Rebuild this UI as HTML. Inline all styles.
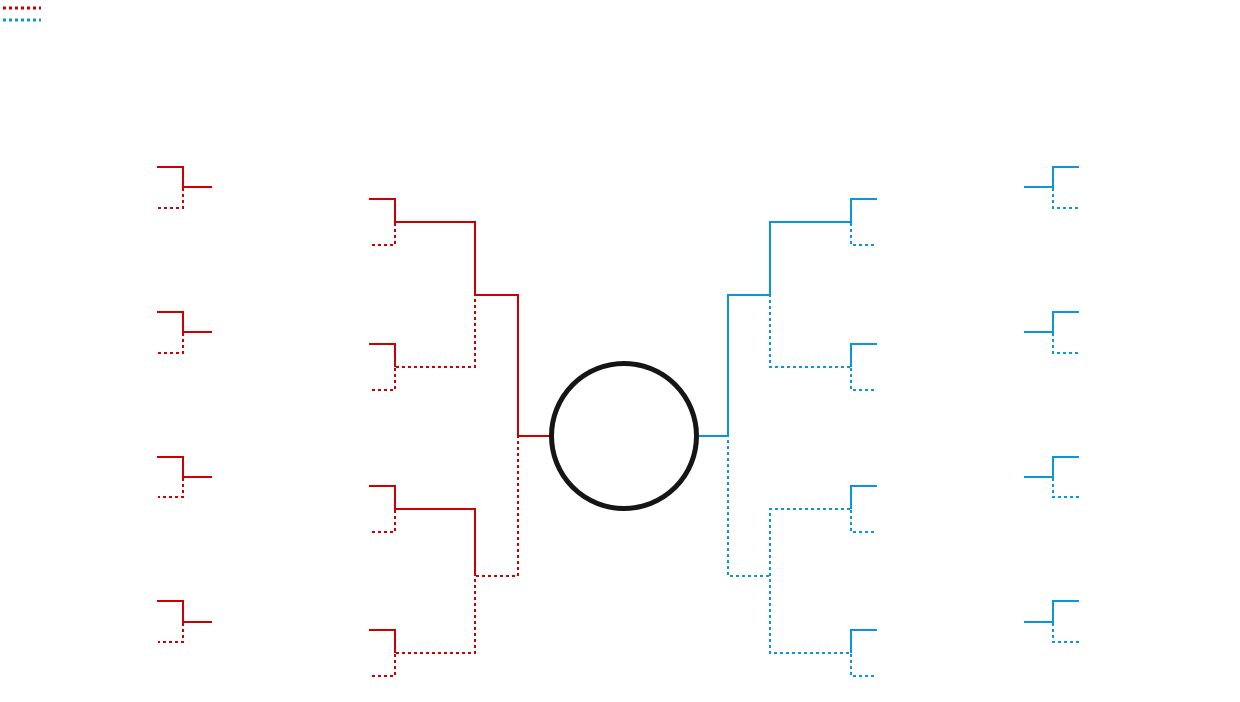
<!DOCTYPE html>
<html><head><meta charset="utf-8"><style>
html,body{margin:0;padding:0;background:#fff;}
svg{display:block;}
</style></head><body>
<svg width="1240" height="702" viewBox="0 0 1240 702" xmlns="http://www.w3.org/2000/svg">
<defs>
<style>
.r{stroke:#cc0000;stroke-width:2;fill:none;}
.b{stroke:#0a96d8;stroke-width:2;fill:none;}
.d{stroke-dasharray:3 3;}
</style>
</defs>
<!-- legend -->
<line class="r d" x1="3" y1="8" x2="41" y2="8" style="stroke-width:3"/>
<line class="b d" x1="3" y1="20" x2="41" y2="20" style="stroke-width:3"/>

<!-- left round 1 brackets -->
<g>
<polyline class="r" points="157,167 183,167 183,187 212,187"/>
<polyline class="r d" points="183,188 183,208 158,208"/>
<polyline class="r" points="157,312 183,312 183,332 212,332"/>
<polyline class="r d" points="183,333 183,353 158,353"/>
<polyline class="r" points="157,457 183,457 183,477 212,477"/>
<polyline class="r d" points="183,478 183,497 158,497"/>
<polyline class="r" points="157,601 183,601 183,622 212,622"/>
<polyline class="r d" points="183,623 183,642 158,642"/>
</g>

<!-- right round 1 brackets -->
<g>
<polyline class="b" points="1024,187 1053,187 1053,167 1079,167"/>
<polyline class="b d" points="1053,188 1053,208 1079,208"/>
<polyline class="b" points="1024,332 1053,332 1053,312 1079,312"/>
<polyline class="b d" points="1053,333 1053,353 1079,353"/>
<polyline class="b" points="1024,477 1053,477 1053,457 1079,457"/>
<polyline class="b d" points="1053,478 1053,497 1079,497"/>
<polyline class="b" points="1024,622 1053,622 1053,601 1079,601"/>
<polyline class="b d" points="1053,623 1053,642 1079,642"/>
</g>

<!-- left round 2 -->
<polyline class="r" points="369,199 395,199 395,222 475,222 475,295 518,295 518,436 551,436"/>
<polyline class="r d" points="395,223 395,245 369,245"/>
<polyline class="r" points="369,344 395,344 395,367"/>
<polyline class="r d" points="395,368 395,390 369,390"/>
<polyline class="r d" points="396,367 475,367 475,296"/>
<polyline class="r" points="369,486 395,486 395,509 475,509 475,576"/>
<polyline class="r d" points="395,510 395,532 369,532"/>
<polyline class="r" points="369,630 395,630 395,653"/>
<polyline class="r d" points="395,654 395,676 369,676"/>
<polyline class="r d" points="396,653 475,653 475,577"/>
<polyline class="r d" points="476,576 518,576 518,437"/>

<!-- right round 2 -->
<polyline class="b" points="877,199 851,199 851,222 770,222 770,295 728,295 728,436 697,436"/>
<polyline class="b d" points="851,223 851,245 877,245"/>
<polyline class="b" points="877,344 851,344 851,367"/>
<polyline class="b d" points="851,368 851,390 877,390"/>
<polyline class="b d" points="850,367 770,367 770,296"/>
<polyline class="b" points="877,486 851,486 851,509"/>
<polyline class="b d" points="851,510 851,532 877,532"/>
<polyline class="b d" points="850,509 770,509 770,653 850,653"/>
<polyline class="b" points="877,630 851,630 851,653"/>
<polyline class="b d" points="851,654 851,676 877,676"/>
<polyline class="b d" points="769,576 728,576 728,437"/>

<!-- center circle -->
<circle cx="624" cy="436" r="72.5" fill="#fff" stroke="#151515" stroke-width="5"/>
</svg>
</body></html>
